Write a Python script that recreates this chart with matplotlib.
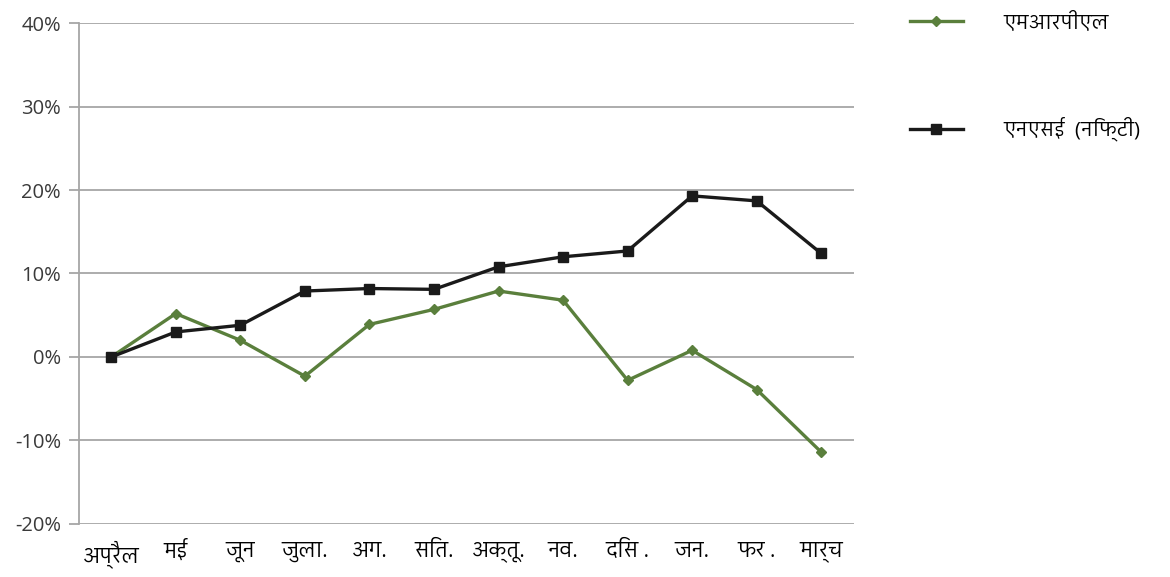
import matplotlib
matplotlib.use("Agg")
import matplotlib.pyplot as plt
from matplotlib import font_manager
from matplotlib.ft2font import FT2Font

# महीने और दोनों श्रृंखलाओं का प्रतिशत बदलाव
months = ["अप्रैल", "मई", "जून", "जुला.", "अग.", "सित.", "अक्तू.", "नव.", "दिस .", "जन.", "फर .", "मार्च"]
mrpl = [0, 5.2, 2.0, -2.3, 3.9, 5.7, 7.9, 6.8, -2.8, 0.8, -3.9, -11.4]
nifty = [0, 3.0, 3.8, 7.9, 8.2, 8.1, 10.8, 12.0, 12.7, 19.3, 18.7, 12.4]
labels = ["एमआरपीएल", "एनएसई  (निफ्टी)"]
yticks = [-20, -10, 0, 10, 20, 30, 40]


# देवनागरी वाला फ़ॉन्ट खोजें, अगर कोई हो (sans पहले, mono बाद में)
def find_devanagari():
    found = []
    for f in font_manager.fontManager.ttflist:
        try:
            if 0x0915 in FT2Font(f.fname).get_charmap() and f.name not in found:
                found.append(f.name)
        except Exception:
            pass

    def rank(n):
        n = n.lower()
        if "devanagari" in n and "sans" in n:
            return 0
        if "devanagari" in n or "lohit" in n:
            return 1
        if "mono" in n:
            return 9
        if "sans" in n:
            return 2
        return 5
    return sorted(found, key=rank)


fams = find_devanagari()
plt.rcParams["font.family"] = ["Open Sans"] + fams + ["DejaVu Sans"]

fig = plt.figure(figsize=(11.7, 5.77), dpi=100)
ax = fig.add_axes([0.0675, 0.092, 0.662, 0.868])

x = list(range(len(months)))
ax.plot(x, mrpl, color="#5a7f3c", lw=2.4, marker="D", ms=5, label=labels[0])
ax.plot(x, nifty, color="#1a1a1a", lw=2.4, marker="s", ms=6.5, label=labels[1])

ax.set_xlim(-0.5, 11.5)
ax.set_ylim(-20, 40)
ax.set_yticks(yticks)
ax.set_yticklabels([f"{v}%" for v in yticks])
ax.set_xticks(x)
ax.set_xticklabels(months)

ax.grid(axis="y", color="#a6a6a6", lw=1.3)
ax.set_axisbelow(True)
for s in ["top", "right", "bottom"]:
    ax.spines[s].set_visible(False)
ax.spines["left"].set_color("#a6a6a6")
ax.spines["left"].set_linewidth(1.3)
ax.tick_params(axis="y", length=7, width=1.3, color="#a6a6a6", pad=6,
               labelsize=14.5, labelcolor="#3a3a3a")
ax.tick_params(axis="x", length=0, pad=12, labelsize=15, labelcolor="black")

ax.legend(loc="upper left", bbox_to_anchor=(0.766, 1.003), bbox_transform=fig.transFigure,
          frameon=False, fontsize=14.5, handlelength=2.6, handletextpad=2.0,
          labelspacing=4.15, borderpad=0.2)

plt.savefig("out.png", dpi=100)
